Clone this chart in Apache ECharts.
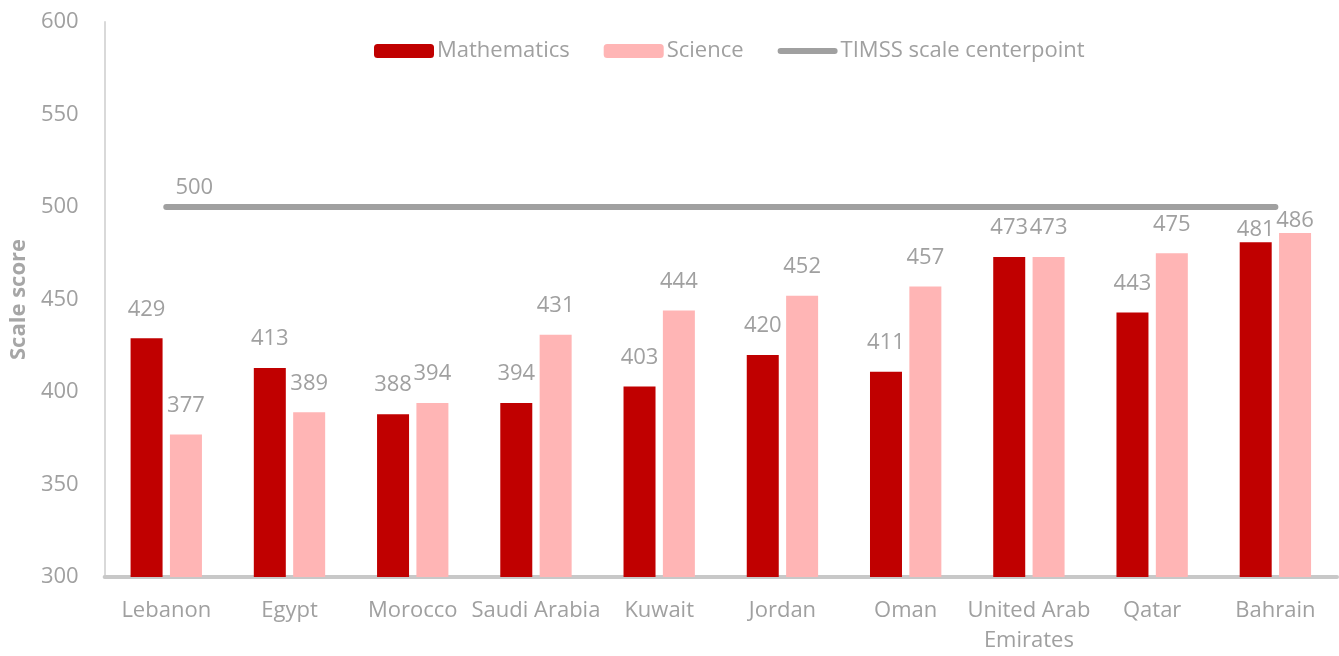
<!DOCTYPE html>
<html><head><meta charset="utf-8">
<script src="https://cdn.jsdelivr.net/npm/echarts@6/dist/echarts.min.js"></script>
<style>html,body{margin:0;padding:0;background:#fff}#c{width:1339px;height:656px}</style>
</head><body><div id="c"></div>
<script>
const categories = ['Lebanon','Egypt','Morocco','Saudi Arabia','Kuwait','Jordan','Oman','United Arab\nEmirates','Qatar','Bahrain'];
const mathematics = [429,413,388,394,403,420,411,473,443,481];
const science = [377,389,394,431,444,452,457,473,475,486];
const centerpoint = [500,500,500,500,500,500,500,500,500,500];
const yTicks = {min:300, max:600, interval:50};

const FONT = 'Open Sans';
const GREY = '#a0a0a0';
const lbl = {show:true, position:'top', distance:18, color:GREY, fontSize:22, fontFamily:FONT};

function withBahrainLabel(arr){
  return arr.map((v,i)=> i===arr.length-1 ? {value:v, label:{distance:1}} : v);
}

const chart = echarts.init(document.getElementById('c'));
chart.setOption({
  animation:false,
  textStyle:{fontFamily:FONT},
  grid:{left:97,right:2,top:22,bottom:70},
  legend:{
    left:369, top:35, itemWidth:60, itemHeight:14, itemGap:34,
    textStyle:{color:GREY,fontSize:22,fontFamily:FONT,padding:[0,0,0,-2]},
    data:['Mathematics','Science',
      {name:'TIMSS scale centerpoint', icon:'path://M3,4 L57,4 A3,3 0 0 1 57,10 L3,10 A3,3 0 0 1 3,4 Z', itemStyle:{color:GREY}}]
  },
  xAxis:{
    type:'category', data:categories,
    axisLine:{lineStyle:{color:'#c8c8c8',width:4}},
    axisTick:{show:false},
    axisLabel:{color:GREY,fontSize:22,fontFamily:FONT,margin:19,lineHeight:30,interval:0}
  },
  yAxis:{
    type:'value', min:yTicks.min, max:yTicks.max, interval:yTicks.interval,
    name:'Scale score', nameLocation:'middle', nameGap:70,
    nameTextStyle:{color:'#a6a6a6',fontSize:22,fontWeight:'bold',fontFamily:FONT},
    axisLine:{show:true,lineStyle:{color:'#d9d9d9',width:2}},
    axisTick:{show:false},
    splitLine:{show:false},
    axisLabel:{color:GREY,fontSize:22,fontFamily:FONT,margin:26}
  },
  series:[
    {name:'Mathematics',type:'bar',data:withBahrainLabel(mathematics),barWidth:32,barGap:'23%',
     itemStyle:{color:'#c00000'},label:lbl},
    {name:'Science',type:'bar',data:withBahrainLabel(science),barWidth:32,
     itemStyle:{color:'#ffb5b5'},label:lbl},
    {name:'TIMSS scale centerpoint',type:'line',
     data:centerpoint.map((v,i)=> i===0 ? {value:v,label:{show:true,position:'top',distance:8,offset:[28,0],color:GREY,fontSize:22,fontFamily:FONT}} : v),
     symbol:'circle',symbolSize:0.1,showSymbol:true,itemStyle:{color:GREY},
     lineStyle:{color:GREY,width:6,cap:'round'},z:5}
  ]
});
</script></body></html>
